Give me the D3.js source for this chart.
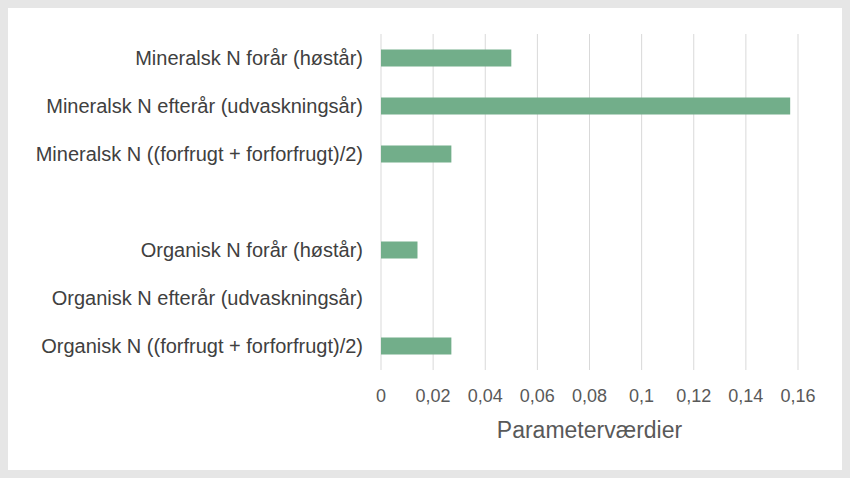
<!DOCTYPE html>
<html>
<head>
<meta charset="utf-8">
<script src="https://cdn.jsdelivr.net/npm/d3@7"></script>
<style>
  body { margin: 0; background: #e6e6e6; }
  svg { display: block; }
</style>
</head>
<body>
<svg id="chart" width="850" height="478"></svg>
<script>
// data
const categories = [
    "Mineralsk N forår (høstår)",
    "Mineralsk N efterår (udvaskningsår)",
    "Mineralsk N ((forfrugt + forforfrugt)/2)",
    "",
    "Organisk N forår (høstår)",
    "Organisk N efterår (udvaskningsår)",
    "Organisk N ((forfrugt + forforfrugt)/2)"
];
const values = [0.05, 0.157, 0.027, null, 0.014, 0, 0.027];
const tickValues = [0, 0.02, 0.04, 0.06, 0.08, 0.1, 0.12, 0.14, 0.16];
const axisTitle = "Parameterværdier";

const svg = d3.select("#chart");
svg.append("rect")
    .attr("x", 8).attr("y", 8)
    .attr("width", 834).attr("height", 462)
    .style("fill", "white");

let x = d3.scaleLinear().domain([0, 0.16]).range([381, 798]);
let y = d3.scaleBand().domain(d3.range(categories.length)).range([34, 370]);

const fmt = d => d3.format("")(d).replace(".", ",");

// gridlines
svg.append("g").selectAll("line")
    .data(tickValues)
    .join("line")
    .attr("x1", d => x(d)).attr("x2", d => x(d))
    .attr("y1", 34).attr("y2", 370)
    .style("stroke", "#d9d9d9")
    .style("stroke-width", 1);

// bars
svg.append("g").selectAll("rect")
    .data(values.map((v, i) => ({v, i})).filter(d => d.v != null))
    .join("rect")
    .attr("x", x(0))
    .attr("y", d => y(d.i) + y.bandwidth()/2 - 8.5)
    .attr("width", d => x(d.v) - x(0))
    .attr("height", 17)
    .style("fill", "#72ae8a");

// category labels
svg.append("g").selectAll("text")
    .data(categories)
    .join("text")
    .attr("x", 363)
    .attr("y", (d, i) => y(i) + y.bandwidth()/2)
    .attr("dy", "0.35em")
    .attr("text-anchor", "end")
    .style("font-family", "Liberation Sans, Arial, sans-serif")
    .style("font-size", "20px")
    .style("fill", "#404040")
    .text(d => d);

// x tick labels
svg.append("g").selectAll("text")
    .data(tickValues)
    .join("text")
    .attr("x", d => x(d))
    .attr("y", 402)
    .attr("text-anchor", "middle")
    .style("font-family", "Liberation Sans, Arial, sans-serif")
    .style("font-size", "18px")
    .style("fill", "#595959")
    .text(fmt);

svg.append("text")
    .attr("x", x(0.08))
    .attr("y", 438)
    .attr("text-anchor", "middle")
    .style("font-family", "Liberation Sans, Arial, sans-serif")
    .style("font-size", "23px")
    .style("fill", "#595959")
    .text(axisTitle);
</script>
</body>
</html>
